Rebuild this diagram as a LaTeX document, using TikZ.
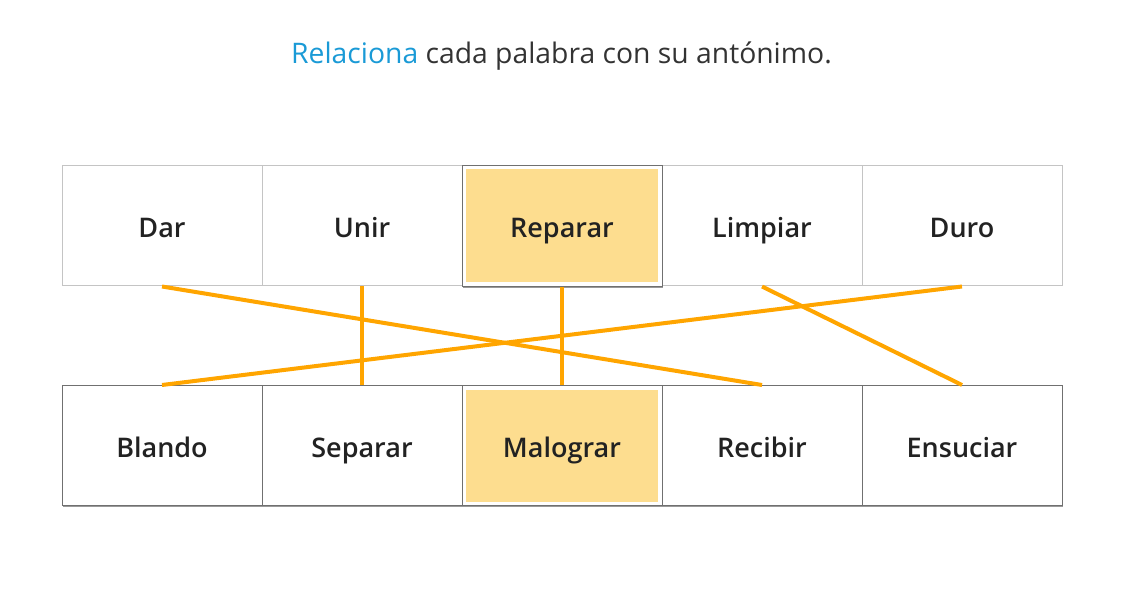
\documentclass[tikz,border=0pt]{standalone}
\usepackage{fontspec}
\setmainfont{Open Sans}
\IfFontExistsTF{Open Sans SemiBold}{\newfontfamily\wordfont{Open Sans SemiBold}}{%
  \IfFontExistsTF{Open Sans Semibold}{\newfontfamily\wordfont{Open Sans Semibold}}{%
    \newfontfamily\wordfont{Open Sans}[FakeBold=1.2]}}
\usetikzlibrary{shadows}
\definecolor{txt}{HTML}{222222}
\definecolor{ttl}{HTML}{333333}
\definecolor{lnk}{HTML}{1A9AD6}
\definecolor{boxlight}{HTML}{C4C4C4}
\definecolor{boxdark}{HTML}{707070}
\definecolor{hl}{HTML}{FDDD8F}
\definecolor{link}{HTML}{FFA500}
\begin{document}
\begin{tikzpicture}[x=1pt,y=-1pt,
  wordbox/.style={draw=boxlight, line width=1pt, fill=white, minimum width=200pt, minimum height=120pt, inner sep=0pt, text height=24pt, text depth=0pt, text=txt, font=\fontsize{27}{31}\selectfont\wordfont},
  darkbox/.style={wordbox, draw=boxdark, drop shadow={shadow xshift=1pt, shadow yshift=-1.5pt, opacity=.4, fill=black}},
  hlbox/.style={darkbox, path picture={\fill[hl] ([shift={(4pt,4pt)}]path picture bounding box.south west) rectangle ([shift={(-4pt,-4pt)}]path picture bounding box.north east);}},
  connector/.style={draw=link, line width=4pt}
]
\useasboundingbox (0,0) rectangle (1123,601);
\node[font=\fontsize{28.3}{32}\selectfont, text=ttl, anchor=base] (title) at (561.5,64) {\textcolor{lnk}{Relaciona} cada palabra con su antónimo.};
% top row
\node[wordbox] (t1) at (162,226) {Dar};
\node[wordbox] (t2) at (362,226) {Unir};
\node[wordbox] (t4) at (762,226) {Limpiar};
\node[wordbox] (t5) at (962,226) {Duro};
\node[hlbox, minimum height=121pt] (t3) at (562,226) {Reparar};
% bottom row
\node[darkbox] (b1) at (162,445.5) {Blando};
\node[darkbox] (b2) at (362,445.5) {Separar};
\node[hlbox] (b3) at (562,445.5) {Malograr};
\node[darkbox] (b4) at (762,445.5) {Recibir};
\node[darkbox] (b5) at (962,445.5) {Ensuciar};
% connectors
\draw[connector] (t1.south) -- (b4.north);
\draw[connector] (t2.south) -- (b2.north);
\draw[connector] (t3.south) -- (b3.north);
\draw[connector] (t4.south) -- (b5.north);
\draw[connector] (t5.south) -- (b1.north);
\end{tikzpicture}
\end{document}
